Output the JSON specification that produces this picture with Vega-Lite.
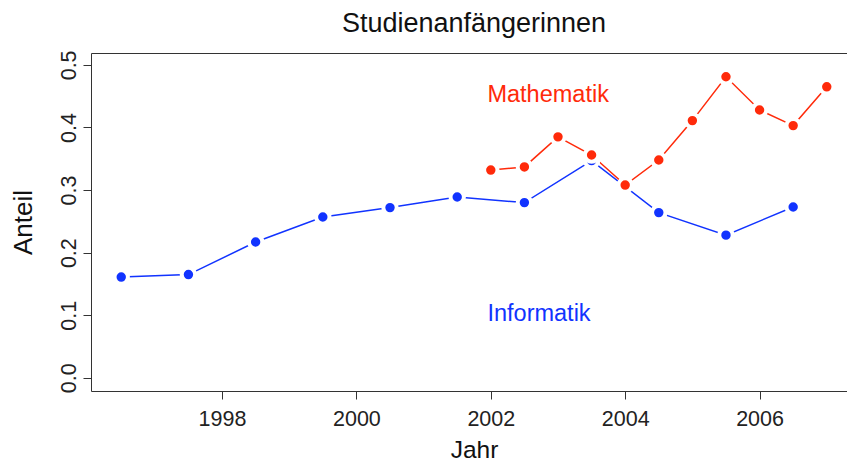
{
  "$schema": "https://vega.github.io/schema/vega-lite/v6.json",
  "width": 766,
  "height": 338,
  "autosize": "none",
  "padding": {"left": 91, "top": 53, "right": 0, "bottom": 74},
  "background": "white",
  "config": {
    "font": "Liberation Sans",
    "view": {"stroke": "#333333", "strokeWidth": 1},
    "axis": {
      "grid": false,
      "domain": false,
      "tickColor": "#333333",
      "tickSize": 8,
      "labelFont": "Liberation Sans",
      "labelFontSize": 21.5,
      "labelColor": "#222222",
      "titleFont": "Liberation Sans",
      "titleFontSize": 26,
      "titleFontWeight": "normal",
      "titleColor": "#111111"
    }
  },
  "title": {
    "text": "Studienanfängerinnen",
    "fontSize": 27,
    "fontWeight": "normal",
    "font": "Liberation Sans",
    "color": "#111111",
    "anchor": "middle",
    "offset": 12
  },
  "datasets": {
    "pts": [
      {"Jahr": 1996.5, "Anteil": 0.161, "Fach": "Informatik"},
      {"Jahr": 1997.5, "Anteil": 0.165, "Fach": "Informatik"},
      {"Jahr": 1998.5, "Anteil": 0.217, "Fach": "Informatik"},
      {"Jahr": 1999.5, "Anteil": 0.257, "Fach": "Informatik"},
      {"Jahr": 2000.5, "Anteil": 0.272, "Fach": "Informatik"},
      {"Jahr": 2001.5, "Anteil": 0.289, "Fach": "Informatik"},
      {"Jahr": 2002.5, "Anteil": 0.280, "Fach": "Informatik"},
      {"Jahr": 2003.5, "Anteil": 0.347, "Fach": "Informatik"},
      {"Jahr": 2004.5, "Anteil": 0.264, "Fach": "Informatik"},
      {"Jahr": 2005.5, "Anteil": 0.228, "Fach": "Informatik"},
      {"Jahr": 2006.5, "Anteil": 0.273, "Fach": "Informatik"},
      {"Jahr": 2002.0, "Anteil": 0.332, "Fach": "Mathematik"},
      {"Jahr": 2002.5, "Anteil": 0.337, "Fach": "Mathematik"},
      {"Jahr": 2003.0, "Anteil": 0.385, "Fach": "Mathematik"},
      {"Jahr": 2003.5, "Anteil": 0.356, "Fach": "Mathematik"},
      {"Jahr": 2004.0, "Anteil": 0.308, "Fach": "Mathematik"},
      {"Jahr": 2004.5, "Anteil": 0.348, "Fach": "Mathematik"},
      {"Jahr": 2005.0, "Anteil": 0.411, "Fach": "Mathematik"},
      {"Jahr": 2005.5, "Anteil": 0.481, "Fach": "Mathematik"},
      {"Jahr": 2006.0, "Anteil": 0.428, "Fach": "Mathematik"},
      {"Jahr": 2006.5, "Anteil": 0.403, "Fach": "Mathematik"},
      {"Jahr": 2007.0, "Anteil": 0.465, "Fach": "Mathematik"}
    ],
    "labels": [
      {"Jahr": 2001.95, "Anteil": 0.452, "Fach": "Mathematik"},
      {"Jahr": 2001.95, "Anteil": 0.102, "Fach": "Informatik"}
    ]
  },
  "encoding": {
    "x": {
      "field": "Jahr",
      "type": "quantitative",
      "scale": {"domain": [1996.05, 2007.45], "nice": false, "zero": false},
      "axis": {"values": [1998, 2000, 2002, 2004, 2006], "format": "d", "title": "Jahr", "labelPadding": 9, "titlePadding": 9, "titleFontSize": 24.5}
    },
    "y": {
      "field": "Anteil",
      "type": "quantitative",
      "scale": {"domain": [-0.021, 0.519], "nice": false, "zero": false},
      "axis": {"values": [0, 0.1, 0.2, 0.3, 0.4, 0.5], "format": ".1f", "title": "Anteil", "labelAngle": 270, "labelAlign": "center", "labelBaseline": "bottom", "labelPadding": 3, "titlePadding": 22}
    },
    "color": {
      "field": "Fach",
      "type": "nominal",
      "scale": {"domain": ["Informatik", "Mathematik"], "range": ["#1133ff", "#ff2a0a"]},
      "legend": null
    }
  },
  "layer": [
    {
      "mark": {"type": "rule", "color": "#222222", "strokeWidth": 1},
      "encoding": {"y": {"datum": 0.5}, "x": null, "color": null}
    },
    {
      "data": {"name": "pts"},
      "mark": {"type": "line", "strokeWidth": 1.5},
      "encoding": {"detail": {"field": "Fach"}}
    },
    {
      "data": {"name": "pts"},
      "mark": {"type": "point", "filled": true, "size": 180, "stroke": "white", "strokeWidth": 4, "opacity": 1, "strokeOpacity": 1, "fillOpacity": 1},
      "encoding": {"fill": {"field": "Fach", "type": "nominal", "scale": {"domain": ["Informatik", "Mathematik"], "range": ["#1133ff", "#ff2a0a"]}, "legend": null}, "color": null}
    },
    {
      "data": {"name": "labels"},
      "mark": {"type": "text", "fontSize": 23.5, "align": "left", "baseline": "middle"},
      "encoding": {"text": {"field": "Fach"}}
    }
  ]
}
